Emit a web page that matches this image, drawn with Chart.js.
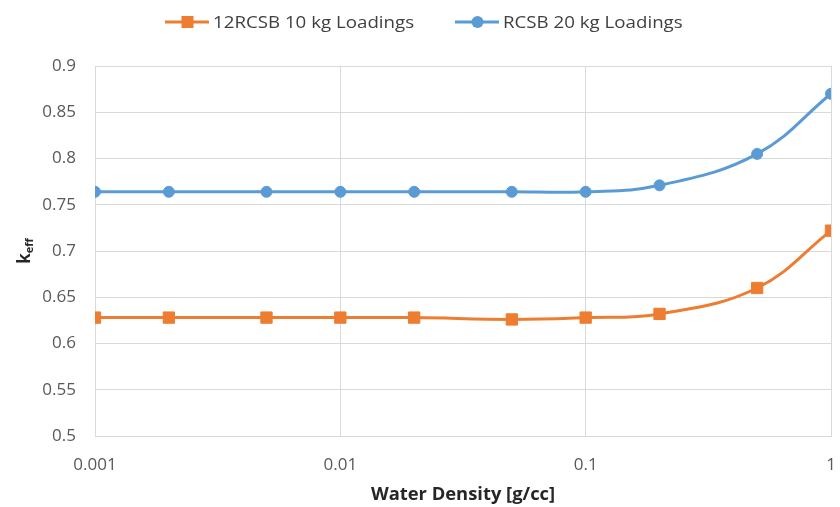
<!DOCTYPE html>
<html>
<head>
<meta charset="utf-8">
<script src="https://cdn.jsdelivr.net/npm/chart.js@4/dist/chart.umd.min.js"></script>
<style>
  html, body { margin: 0; padding: 0; background: #ffffff; }
  #wrap { width: 840px; height: 507px; position: relative; }
</style>
</head>
<body>
<div id="wrap"><canvas id="c" width="840" height="507"></canvas></div>
<script>
// Water density values (g/cc) sampled on the log axis
const waterDensity = [0.001, 0.002, 0.005, 0.01, 0.02, 0.05, 0.1, 0.2, 0.5, 1];
// k-eff for each cask loading
const keff10kg = [0.628, 0.628, 0.628, 0.628, 0.628, 0.626, 0.628, 0.632, 0.660, 0.722];
const keff20kg = [0.764, 0.764, 0.764, 0.764, 0.764, 0.764, 0.764, 0.771, 0.805, 0.870];
const seriesNames = ['12RCSB 10 kg Loadings', 'RCSB 20 kg Loadings'];
const xTickValues = [0.001, 0.01, 0.1, 1];
const xTitle = 'Water Density [g/cc]';

const ORANGE = '#ED7D31';
const BLUE = '#5B9BD5';
const FONT = '"Open Sans", "Noto Sans", sans-serif';
const PLOT_RIGHT = 835;

const toPoints = (xs, ys) => xs.map((x, i) => ({ x: x, y: ys[i] }));

// Draws text slightly widened horizontally, anchored at (x, y)
function wideText(ctx, text, x, y, align, stretch) {
  ctx.save();
  ctx.translate(x, y);
  ctx.scale(stretch, 1);
  ctx.textAlign = align;
  ctx.fillText(text, 0, 0);
  ctx.restore();
}

// Legend (line + marker), axis titles
const decorations = {
  id: 'decorations',
  afterDraw(chart) {
    const ctx = chart.ctx;
    ctx.save();
    const items = [
      { name: seriesNames[0], color: ORANGE, shape: 'rect', x0: 165 },
      { name: seriesNames[1], color: BLUE, shape: 'circle', x0: 455 }
    ];
    const ly = 22;
    items.forEach(it => {
      ctx.strokeStyle = it.color;
      ctx.lineWidth = 3;
      ctx.beginPath();
      ctx.moveTo(it.x0, ly);
      ctx.lineTo(it.x0 + 44, ly);
      ctx.stroke();
      ctx.fillStyle = it.color;
      const cx = it.x0 + 22.5;
      if (it.shape === 'rect') {
        ctx.fillRect(cx - 6, ly - 6, 12, 12);
      } else {
        ctx.beginPath();
        ctx.arc(cx, ly, 6, 0, Math.PI * 2);
        ctx.fill();
      }
      ctx.fillStyle = '#404040';
      ctx.font = '17px ' + FONT;
      ctx.textBaseline = 'middle';
      wideText(ctx, it.name, it.x0 + 48, ly + 1, 'left', 1.1);
    });

    // x-axis title
    const area = chart.chartArea;
    ctx.fillStyle = '#262626';
    ctx.font = 'bold 17px ' + FONT;
    ctx.textBaseline = 'middle';
    wideText(ctx, xTitle, (area.left + area.right) / 2, 495, 'center', 1.08);

    // y-axis title: k with subscript "eff", rotated
    ctx.translate(24, 251);
    ctx.rotate(-Math.PI / 2);
    ctx.textBaseline = 'alphabetic';
    ctx.textAlign = 'left';
    ctx.font = 'bold 17px ' + FONT;
    const kw = ctx.measureText('k').width;
    ctx.font = 'bold 11px ' + FONT;
    const sw = ctx.measureText('eff').width;
    const start = -(kw + sw) / 2;
    ctx.font = 'bold 17px ' + FONT;
    ctx.fillText('k', start, 6);
    ctx.font = 'bold 11px ' + FONT;
    ctx.fillText('eff', start + kw, 9);
    ctx.restore();
  }
};

const chart = new Chart(document.getElementById('c'), {
  type: 'line',
  data: {
    datasets: [
      {
        label: seriesNames[0],
        data: toPoints(waterDensity, keff10kg),
        borderColor: ORANGE,
        backgroundColor: ORANGE,
        borderWidth: 3,
        pointStyle: 'rect',
        pointRadius: 8,
        pointBorderWidth: 1,
        tension: 0.4,
        fill: false
      },
      {
        label: seriesNames[1],
        data: toPoints(waterDensity, keff20kg),
        borderColor: BLUE,
        backgroundColor: BLUE,
        borderWidth: 3,
        pointStyle: 'circle',
        pointRadius: 5.5,
        pointBorderWidth: 1,
        tension: 0.4,
        fill: false
      }
    ]
  },
  options: {
    responsive: false,
    animation: false,
    devicePixelRatio: 1,
    layout: { padding: { top: 66, right: 5, left: 0, bottom: 0 } },
    plugins: {
      legend: { display: false },
      tooltip: { enabled: false }
    },
    scales: {
      x: {
        type: 'logarithmic',
        min: 0.001,
        max: 1,
        afterBuildTicks(scale) {
          scale.ticks = xTickValues.map(v => ({ value: v, major: true }));
        },
        afterFit(scale) {
          scale.height = 71;
          scale.paddingLeft = 0;
          scale.paddingRight = 0;
        },
        ticks: {
          autoSkip: false,
          maxRotation: 0,
          padding: 19,
          color: '#595959',
          font: { family: FONT, size: 17 },
          callback: v => String(v)
        },
        grid: { color: '#d9d9d9', lineWidth: 1, drawTicks: false },
        border: { color: '#d9d9d9', width: 1 }
      },
      y: {
        min: 0.5,
        max: 0.9,
        afterFit(scale) {
          scale.width = 95;
          scale.paddingTop = 0;
          scale.paddingBottom = 0;
        },
        ticks: {
          stepSize: 0.05,
          padding: 19,
          color: '#595959',
          font: { family: FONT, size: 17 },
          callback: v => String(Number(v.toFixed(2)))
        },
        grid: { color: '#d9d9d9', lineWidth: 1, drawTicks: false },
        border: { color: '#d9d9d9', width: 1 }
      }
    }
  },
  plugins: [decorations]
});

// Pin the right edge of the plot area
const overshoot = chart.chartArea.right - PLOT_RIGHT;
if (Math.abs(overshoot) > 0.5) {
  chart.options.layout.padding.right += overshoot;
  chart.update('none');
}
</script>
</body>
</html>
